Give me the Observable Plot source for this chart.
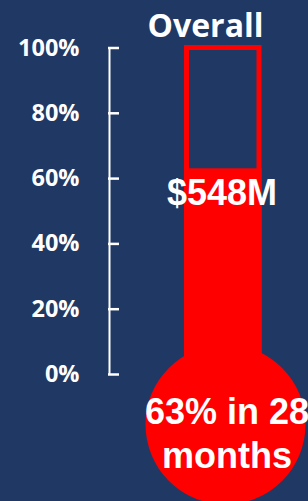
<!DOCTYPE html>
<html>
<head>
<meta charset="utf-8">
<script src="https://cdn.jsdelivr.net/npm/d3@7"></script>
<script src="https://cdn.jsdelivr.net/npm/@observablehq/plot@0.6"></script>
<style>
  html, body { margin: 0; padding: 0; background: #203864; overflow: hidden; }
  #chart svg { display: block; }
</style>
</head>
<body>
<div id="chart"></div>
<script>
// ---- data ----
const titleText = ["Overall"];
const tickValues = [0, 20, 40, 60, 80, 100];
const percentRaised = [63];
const amountLabels = ["$548M"];
const bulbLabels = ["63% in 28\nmonths"];

const table = percentRaised.map((p, i) => ({pct: p, amount: amountLabels[i], note: bulbLabels[i]}));

// ---- layout & style ----
const RED = "#ff0000";
const BG = "#203864";
const L = {
  axisX: 109, tickLen: 10, labelX: 79,
  tubeX1: 184, tubeX2: 261.5, outline: 5,
  bulbX: 225, bulbLevel: -15.3, bulbR: 80,
  amountX: 221.5, noteX: 226.5, titleX: 205
};
const labelFont = "'Open Sans', 'DejaVu Sans', sans-serif";
const arialFont = "'Liberation Sans', Arial, sans-serif";

const chart = Plot.plot({
  width: 308,
  height: 501,
  margin: 0,
  style: {background: BG, overflow: "hidden"},
  x: {domain: [0, 308], range: [0, 308], axis: null},
  y: {domain: [0, 100], range: [374, 47.5], axis: null},
  marks: [
    // filled mercury column
    Plot.rect(table, {x1: L.tubeX1, x2: L.tubeX2, y1: L.bulbLevel, y2: "pct", fill: RED}),
    // tube outline 0..100%
    Plot.rect([100], {x1: L.tubeX1 + L.outline / 2, x2: L.tubeX2 - L.outline / 2, y1: 0, y2: d => d,
      fill: "none", stroke: RED, strokeWidth: L.outline}),
    // bulb
    Plot.dot(table, {x: L.bulbX, y: L.bulbLevel, r: L.bulbR, fill: RED, stroke: null}),
    // axis spine
    Plot.ruleX([L.axisX], {y1: 0, y2: 100, stroke: "white", strokeWidth: 2}),
    // ticks
    Plot.ruleY(tickValues, {y: d => d, x1: L.axisX - 1, x2: L.axisX + L.tickLen, stroke: "white", strokeWidth: 2.5}),
    // tick labels
    Plot.text(tickValues, {y: d => d, x: L.labelX, text: d => `${d}%`, textAnchor: "end",
      fill: "white", fontSize: 23.5, fontWeight: "bold", fontFamily: labelFont}),
    // title
    Plot.text(titleText, {x: L.titleX, frameAnchor: "top", text: d => d, lineAnchor: "bottom", dy: 36,
      fill: "white", fontSize: 32, fontWeight: "bold", fontFamily: labelFont}),
    // amount label under the fill level
    Plot.text(table, {x: L.amountX, y: "pct", text: "amount", lineAnchor: "bottom", dy: 36,
      fill: "white", fontSize: 36, fontWeight: "bold", fontFamily: arialFont}),
    // bulb note
    Plot.text(table, {x: L.noteX, y: L.bulbLevel, text: "note", lineAnchor: "bottom", dy: 44,
      lineHeight: 44 / 36, fill: "white", fontSize: 36, fontWeight: "bold", fontFamily: arialFont})
  ]
});
document.getElementById("chart").appendChild(chart);
</script>
</body>
</html>
